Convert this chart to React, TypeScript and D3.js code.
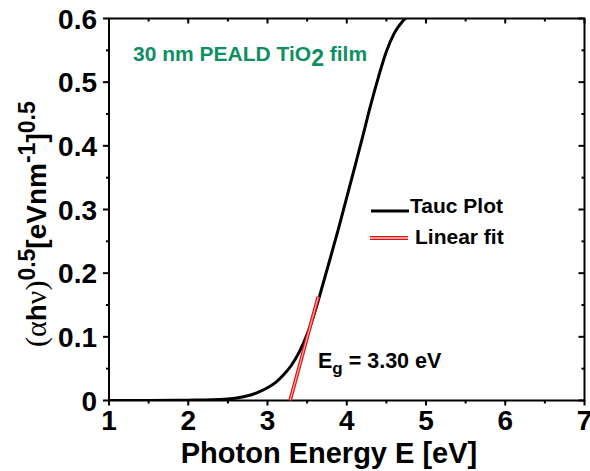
import React from "react";
import * as d3 from "d3";

const energy = [1.0, 1.5, 2.0, 2.3, 2.5, 2.7, 2.8, 2.9, 3.0, 3.1, 3.2, 3.3, 3.4, 3.5, 3.6, 3.7, 3.8, 3.9, 4.0, 4.1, 4.2, 4.3, 4.4, 4.5, 4.6, 4.7, 4.76];
const tauc = [0, 0, 0.0005, 0.001, 0.0025, 0.006, 0.009, 0.014, 0.02, 0.028, 0.04, 0.055, 0.076, 0.104, 0.14, 0.183, 0.227, 0.272, 0.319, 0.366, 0.414, 0.463, 0.508, 0.548, 0.577, 0.595, 0.602];
const fitEnergy = [3.285, 3.64];
const fitValue = [0, 0.163];
const xTicks = [1, 2, 3, 4, 5, 6, 7];
const yTicks = [0, 0.1, 0.2, 0.3, 0.4, 0.5, 0.6];
const yTickLabels = ["0", "0.1", "0.2", "0.3", "0.4", "0.5", "0.6"];

const W = 590, H = 471;
const L = 109, R = 584.5, T = 18.5, B = 400.5;
const sans = "'Liberation Sans', Arial, sans-serif";
const serif = "'Liberation Serif', 'Times New Roman', serif";

export default function App() {
  const x = d3.scaleLinear().domain([1, 7]).range([L, R]);
  const y = d3.scaleLinear().domain([0, 0.6]).range([B, T]);
  const pts = energy.map((e, i) => [e, tauc[i]] as [number, number]);
  const line = d3.line<[number, number]>().x(d => x(d[0])).y(d => y(d[1])).curve(d3.curveMonotoneX);
  const fitPts = fitEnergy.map((e, i) => [e, fitValue[i]] as [number, number]);
  const fitLine = d3.line<[number, number]>().x(d => x(d[0])).y(d => y(d[1]));
  const xMinor = d3.range(1.5, 7, 1);
  const yMinor = d3.range(0.05, 0.6, 0.1);

  return (
    <svg width={W} height={H} style={{ position: "absolute", left: 0, top: 0, background: "#fff" }}>
      <defs>
        <clipPath id="plot"><rect x={L} y={T} width={R - L} height={B - T} /></clipPath>
      </defs>
      <rect x={L} y={T} width={R - L} height={B - T} fill="none" stroke="#000" strokeWidth={2} />
      {xTicks.map(t => <line key={"xb" + t} x1={x(t)} x2={x(t)} y1={B} y2={B + 5} stroke="#000" strokeWidth={2} />)}
      {xMinor.map(t => <line key={"xbm" + t} x1={x(t)} x2={x(t)} y1={B} y2={B + 3} stroke="#000" strokeWidth={2} />)}
      {xTicks.map(t => <line key={"xt" + t} x1={x(t)} x2={x(t)} y1={T} y2={T + 5} stroke="#000" strokeWidth={2} />)}
      {xMinor.map(t => <line key={"xtm" + t} x1={x(t)} x2={x(t)} y1={T} y2={T + 3} stroke="#000" strokeWidth={2} />)}
      {yTicks.map(t => <line key={"yl" + t} x1={L - 6} x2={L} y1={y(t)} y2={y(t)} stroke="#000" strokeWidth={2} />)}
      {yMinor.map(t => <line key={"ylm" + t} x1={L - 3} x2={L} y1={y(t)} y2={y(t)} stroke="#000" strokeWidth={2} />)}
      {yTicks.map(t => <line key={"yr" + t} x1={R - 6} x2={R} y1={y(t)} y2={y(t)} stroke="#000" strokeWidth={2} />)}
      {yMinor.map(t => <line key={"yrm" + t} x1={R - 3} x2={R} y1={y(t)} y2={y(t)} stroke="#000" strokeWidth={2} />)}
      {xTicks.map(t => (
        <text key={"xl" + t} x={x(t)} y={430} textAnchor="middle" fontFamily={sans} fontWeight="bold" fontSize={28}>{t}</text>
      ))}
      {yTicks.map((t, i) => (
        <text key={"ylab" + t} x={97} y={y(t) + 10} textAnchor="end" fontFamily={sans} fontWeight="bold" fontSize={28}>{yTickLabels[i]}</text>
      ))}
      <text x={329} y={463} textAnchor="middle" fontFamily={sans} fontWeight="bold" fontSize={29}>Photon Energy E [eV]</text>
      <text transform="translate(46,347) rotate(-90)" fontFamily={sans} fontWeight="bold" fontSize={28}>
        <tspan fontFamily={serif} fontWeight="normal" fontSize={30}>(α</tspan>
        <tspan>h</tspan>
        <tspan fontFamily={serif} fontWeight="normal" fontSize={30}>ν)</tspan>
        <tspan fontSize={23} dy={-11}>0.5</tspan>
        <tspan dy={11}>[eVnm</tspan>
        <tspan fontSize={23} dy={-11}>-1</tspan>
        <tspan dy={11}>]</tspan>
        <tspan fontSize={23} dy={-11}>0.5</tspan>
      </text>
      <g clipPath="url(#plot)">
        <path d={line(pts) || ""} fill="none" stroke="#000" strokeWidth={3} />
        <path d={fitLine(fitPts) || ""} fill="none" stroke="#e01010" strokeWidth={3.6} />
        <path d={fitLine(fitPts) || ""} fill="none" stroke="#f6a8a8" strokeWidth={1.2} />
      </g>
      <text x={133} y={61} fontFamily={sans} fontWeight="bold" fontSize={21} fill="#0e8f62">
        30 nm PEALD TiO<tspan fontSize={23} dy={5}>2</tspan><tspan dy={-5}> film</tspan>
      </text>
      <text x={318} y={368} fontFamily={sans} fontWeight="bold" fontSize={21.5}>
        E<tspan fontSize={17} dy={6}>g</tspan><tspan dy={-6}> = 3.30 eV</tspan>
      </text>
      <line x1={371} x2={409} y1={211} y2={211} stroke="#000" strokeWidth={3} />
      <text x={410} y={213} fontFamily={sans} fontWeight="bold" fontSize={21}>Tauc Plot</text>
      <line x1={370} x2={408} y1={238} y2={238} stroke="#e01010" strokeWidth={4} />
      <line x1={370} x2={408} y1={238} y2={238} stroke="#ffc8c8" strokeWidth={1.3} />
      <text x={415} y={244} fontFamily={sans} fontWeight="bold" fontSize={21}>Linear fit</text>
    </svg>
  );
}
